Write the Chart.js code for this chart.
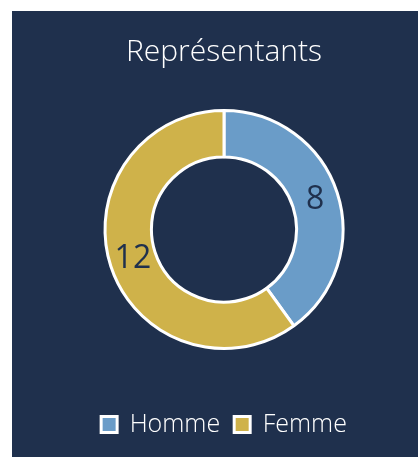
<!DOCTYPE html>
<html>
<head>
<meta charset="utf-8">
<script src="https://cdn.jsdelivr.net/npm/chart.js@4"></script>
<style>
  html, body { margin: 0; padding: 0; background: #ffffff; overflow: hidden; }
  #panel {
    position: absolute; left: 12px; top: 11px;
    width: 424px; height: 446px;
    background: #1f304d;
  }
</style>
</head>
<body>
<div id="panel"><canvas id="repChart"></canvas></div>
<script>
var categories = ["Homme", "Femme"];
var values = [8, 12];
var sliceColors = ["#6a9cc8", "#cfb24a"];
var titleText = "Représentants";

var fontFamily = "'Open Sans', 'Noto Sans', sans-serif";

// draws the value in the middle of each ring slice
var sliceLabels = {
    id: "sliceLabels",
    afterDatasetsDraw: function (chart) {
        var ctx = chart.ctx;
        var meta = chart.getDatasetMeta(0);
        ctx.save();
        ctx.fillStyle = "#1f304d";
        ctx.font = "32px " + fontFamily;
        ctx.textAlign = "center";
        ctx.textBaseline = "middle";
        meta.data.forEach(function (arc, i) {
            var p = arc.tooltipPosition();
            ctx.fillText(String(values[i]), p.x, p.y);
        });
        ctx.restore();
    }
};

new Chart(document.querySelector("#repChart"), {
    type: "doughnut",
    data: {
        labels: categories,
        datasets: [{
            data: values,
            backgroundColor: sliceColors,
            borderColor: "#ffffff",
            borderWidth: 3
        }]
    },
    options: {
        responsive: true,
        maintainAspectRatio: false,
        animation: false,
        radius: 119,
        cutout: "61%",
        layout: { padding: { top: 0, bottom: 10, left: 0, right: 0 } },
        plugins: {
            title: {
                display: true,
                text: titleText,
                color: "#ffffff",
                font: { family: fontFamily, size: 30, weight: 300, lineHeight: 1 },
                padding: { top: 26, bottom: -6 }
            },
            legend: {
                display: true,
                position: "bottom",
                labels: {
                    color: "#ffffff",
                    boxWidth: 16,
                    boxHeight: 16,
                    padding: 14,
                    font: { family: fontFamily, size: 25, weight: 300 }
                }
            },
            tooltip: { enabled: false }
        }
    },
    plugins: [sliceLabels]
});
</script>
</body>
</html>
